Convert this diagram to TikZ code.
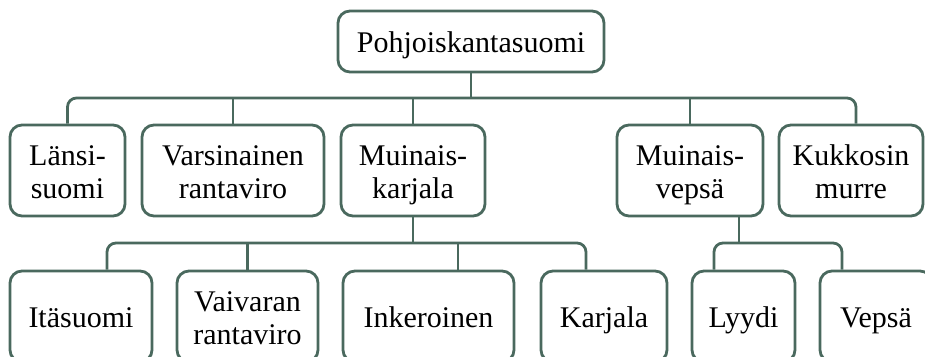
\documentclass[tikz,border=0pt]{standalone}
\usepackage{fontspec}
\setmainfont{Liberation Serif}
\definecolor{lineclr}{RGB}{74,105,94}
\newcommand\lbl[1]{\rule{0pt}{22pt}\smash{#1}}
\begin{document}
\begin{tikzpicture}[x=1pt,y=-1pt,
  box/.style={draw=lineclr, line width=2.8pt, rounded corners=12pt, fill=white,
    inner sep=0pt, align=center, font=\fontsize{30}{33}\selectfont, text=black},
  conn/.style={draw=lineclr, line width=2.8pt},
  bus/.style={conn, rounded corners=9pt}]
\useasboundingbox (0,0) rectangle (925,356);
\clip (0,0) rectangle (925,356);
% root
\node[box, minimum width=266, minimum height=61] (root) at (471,41.5) {\lbl{Pohjoiskantasuomi}};
% row 2
\node[box, minimum width=115, minimum height=91] (A) at (67.5,170.5) {\lbl{Länsi-}\\\lbl{suomi}};
\node[box, minimum width=182, minimum height=91] (B) at (233,170.5) {\lbl{Varsinainen}\\\lbl{rantaviro}};
\node[box, minimum width=144, minimum height=91] (C) at (413,170.5) {\lbl{Muinais-}\\\lbl{karjala}};
\node[box, minimum width=146, minimum height=91] (D) at (690,170.5) {\lbl{Muinais-}\\\lbl{vepsä}};
\node[box, minimum width=144, minimum height=91] (E) at (851,170.5) {\lbl{Kukkosin}\\\lbl{murre}};
% row 3
\node[box, minimum width=142, minimum height=91] (I1) at (81,316.5) {\lbl{Itäsuomi}};
\node[box, minimum width=141, minimum height=91] (I2) at (247.5,316.5) {\lbl{Vaivaran}\\\lbl{rantaviro}};
\node[box, minimum width=171, minimum height=91] (I3) at (428.5,316.5) {\lbl{Inkeroinen}};
\node[box, minimum width=126, minimum height=91] (I4) at (604,316.5) {\lbl{Karjala}};
\node[box, minimum width=103, minimum height=91] (V1) at (743.5,316.5) {\lbl{Lyydi}};
\node[box, minimum width=112, minimum height=91] (V2) at (876,316.5) {\lbl{Vepsä}};
% level 1 connectors
\coordinate (r1) at (471,98);
\draw[conn] (root.south) -- (r1);
\draw[bus] (A.north) |- (r1) -| ([xshift=5pt]E.north);
\draw[conn] (B.north) -- (B.north |- r1);
\draw[conn] (C.north) -- (C.north |- r1);
\draw[conn] (D.north) -- (D.north |- r1);
% Muinaiskarjala
\coordinate (k1) at (413,243);
\draw[conn] (C.south) -- (k1);
\draw[bus] ([xshift=26pt]I1.north) |- (k1) -| ([xshift=-18pt]I4.north);
\draw[conn] (I2.north) -- (I2.north |- k1);
\draw[conn] ([xshift=29.5pt]I3.north) -- ([xshift=29.5pt]I3.north |- k1);
% Muinaisvepsä
\coordinate (v1) at (739,243);
\draw[conn] ([xshift=49pt]D.south) -- (v1);
\draw[bus] ([xshift=-29.5pt]V1.north) |- (v1) -| ([xshift=-34pt]V2.north);
\end{tikzpicture}
\end{document}
